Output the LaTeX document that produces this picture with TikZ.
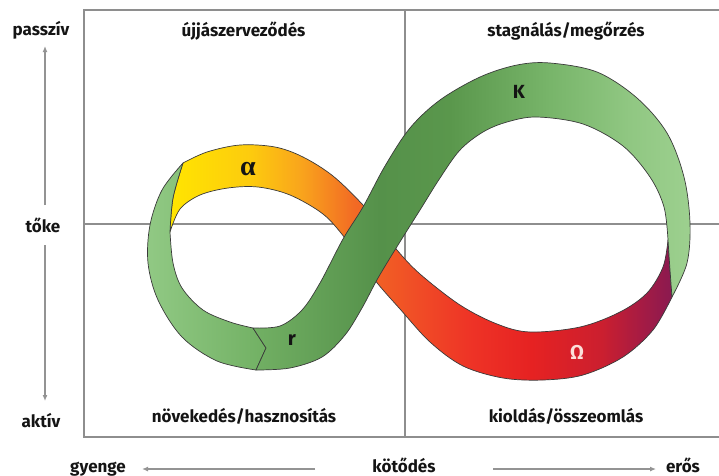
\documentclass[tikz,border=0pt]{standalone}
\usepackage{fontspec}
\setmainfont{Fira Sans}
\newfontfamily\greekserif{Liberation Serif}
\usetikzlibrary{arrows.meta}

\definecolor{framegray}{HTML}{8E8E8E}
\definecolor{arrowgray}{HTML}{939393}
\definecolor{edgecol}{HTML}{3A3A3A}
\definecolor{txt}{HTML}{141414}
\definecolor{omegalabel}{HTML}{FBE0DA}

% colour run of the alpha/omega ribbon, from the yellow left end to the purple right end
\definecolor{oa1}{HTML}{FFE500}
\definecolor{oa2}{HTML}{FDCB0E}
\definecolor{oa3}{HTML}{F9A51C}
\definecolor{oa4}{HTML}{F26A24}
\definecolor{oa5}{HTML}{F04B26}
\definecolor{oa6}{HTML}{EE3326}
\definecolor{oa7}{HTML}{E62222}
\definecolor{oa8}{HTML}{CB1F2F}
\definecolor{oa9}{HTML}{A51B44}
\definecolor{oa10}{HTML}{8A1A50}
\pgfdeclarehorizontalshading{omegaalpha}{100bp}{%
  color(0bp)=(oa1); color(25bp)=(oa1); color(33bp)=(oa2); color(38bp)=(oa3);
  color(43.4bp)=(oa4); color(49.9bp)=(oa5); color(55bp)=(oa6); color(61bp)=(oa7);
  color(68bp)=(oa8); color(72bp)=(oa9); color(75bp)=(oa10); color(100bp)=(oa10)}

% colour run of the r/K ribbon
\definecolor{rk1}{HTML}{72B064}
\definecolor{rk2}{HTML}{55914A}
\definecolor{rk3}{HTML}{5A974C}
\definecolor{rk4}{HTML}{78B56A}
\definecolor{rk5}{HTML}{90C782}
\definecolor{rk6}{HTML}{9DD08F}
\pgfdeclarehorizontalshading{rkband}{100bp}{%
  color(0bp)=(rk1); color(25bp)=(rk1); color(39.5bp)=(rk2); color(47.5bp)=(rk3);
  color(59bp)=(rk4); color(68bp)=(rk5); color(75bp)=(rk6); color(100bp)=(rk6)}

\definecolor{loopleft}{HTML}{91C984}
\definecolor{loopright}{HTML}{71B063}

\begin{document}
\begin{tikzpicture}[x=1pt,y=-1pt,
  frameline/.style={draw=framegray, line width=1.6pt},
  axisarrow/.style={draw=arrowgray, line width=1.3pt, -{Latex[length=6pt,width=5pt]}},
  lbl/.style={font=\fontsize{17}{20}\selectfont\bfseries, text=txt, anchor=base, inner sep=0pt},
  bandedge/.style={draw=edgecol, line width=0.7pt, line join=round},
  curve/.style={smooth, tension=0.55}]
\useasboundingbox (0,0) rectangle (719,475);

% quadrant frame
\draw[frameline] (719,10) -- (84,10) -- (84,437) -- (719,437);
\draw[frameline] (405,10) -- (405,437);
\draw[frameline] (84,224) -- (719,224);

% alpha / omega ribbon (passes underneath)
\shadedraw[shading=omegaalpha, bandedge]
  plot[curve] coordinates {(183,163) (207,152) (240,145) (275,147) (303,157) (333,176)
     (363,205) (380,227) (397,250) (420,274) (460,305) (497,324) (530,332) (580,327)
     (620,312) (647,293) (663,267) (668,240)}
  -- plot[curve] coordinates {(668,240) (670,270) (672,297)}
  -- plot[curve] coordinates {(672,297) (653,330) (623,357) (583,375) (543,380) (503,378)
     (463,366) (430,342) (400,309) (378,284) (362,262) (345,238) (323,214) (290,195)
     (258,187) (228,188) (200,195) (180,209) (170,232)}
  -- plot[curve] coordinates {(170,232) (173,198) (183,163)} -- cycle;

% left green loop
\shadedraw[left color=loopleft, right color=loopright, bandedge]
  plot[curve] coordinates {(183,163) (162,190) (150,225) (148,263) (158,300) (182,337)
     (217,361) (256,370)}
  -- (266,348) -- (253,328)
  -- plot[curve] coordinates {(253,328) (230,322) (203,310) (182,288) (173,263) (170,232)}
  -- plot[curve] coordinates {(170,232) (173,198) (183,163)} -- cycle;

% r / K ribbon (passes on top)
\shadedraw[shading=rkband, bandedge]
  plot[curve] coordinates {(253,328) (280,326) (302,310) (320,283) (343,239) (363,207)
     (385,166) (410,128) (440,100) (480,77) (517,65) (550,63) (597,72) (637,98)
     (667,133) (684,177) (690,223) (687,263) (672,297)}
  -- plot[curve] coordinates {(672,297) (670,270) (668,240)}
  -- plot[curve] coordinates {(668,240) (664,207) (650,177) (623,146) (583,124) (537,117)
     (507,122) (483,132) (460,150) (440,178) (420,210) (398,245) (378,278) (362,308)
     (345,335) (322,357) (290,368) (256,370)}
  -- (266,348) -- cycle;

% phase letters on the ribbon
\node[anchor=base, inner sep=0pt, text=txt, font=\greekserif\bfseries\fontsize{28}{30}\selectfont] (alpha) at (248,175) {α};
\node[lbl, font=\fontsize{19}{21}\selectfont\bfseries] (kphase) at (519,98) {K};
\node[lbl, font=\fontsize{20}{22}\selectfont\bfseries] (rphase) at (292,345) {r};
\node[lbl, text=omegalabel, font=\fontsize{20}{22}\selectfont\bfseries] (omega) at (577,359) {Ω};

% quadrant names
\node[lbl] (reorg) at (243.5,36) {újjászerveződés};
\node[lbl] (stag) at (566,36) {stagnálás/megőrzés};
\node[lbl] (growth) at (244,422) {növekedés/hasznosítás};
\node[lbl] (release) at (566,422) {kioldás/összeomlás};

% vertical axis
\node[lbl] (passziv) at (41,35) {passzív};
\node[lbl] (toke) at (43,232) {tőke};
\node[lbl] (aktiv) at (41,427) {aktív};
\coordinate (upfrom) at (45,205);
\coordinate (upto) at (45,46);
\coordinate (downfrom) at (45,245);
\coordinate (downto) at (45,401);
\draw[axisarrow] (upfrom) -- (upto);
\draw[axisarrow] (downfrom) -- (downto);

% horizontal axis
\node[lbl] (gyenge) at (98,472) {gyenge};
\node[lbl] (kotodes) at (404,472) {kötődés};
\node[lbl] (eros) at (683,472) {erős};
\coordinate (leftfrom) at (315,469);
\coordinate (leftto) at (142,469);
\coordinate (rightfrom) at (493,469);
\coordinate (rightto) at (656,469);
\draw[axisarrow] (leftfrom) -- (leftto);
\draw[axisarrow] (rightfrom) -- (rightto);
\end{tikzpicture}
\end{document}
